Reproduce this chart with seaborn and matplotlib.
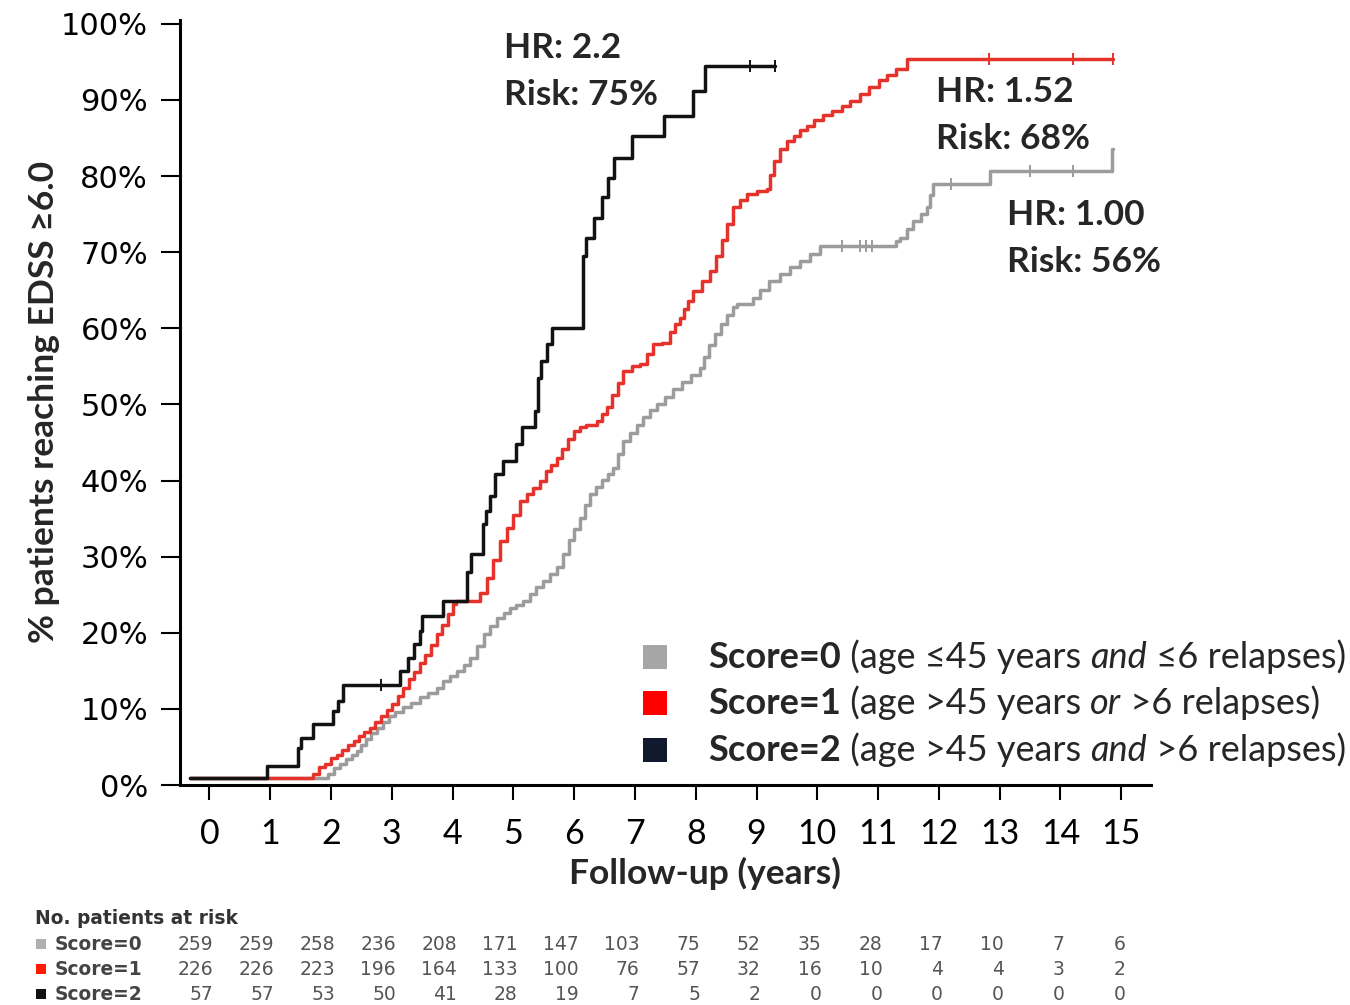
import matplotlib
matplotlib.use("Agg")
import matplotlib.pyplot as plt
import numpy as np
import pandas as pd
import seaborn as sns
from matplotlib.offsetbox import TextArea, HPacker, AnchoredOffsetbox
from matplotlib.patches import Rectangle
from matplotlib.transforms import blended_transform_factory

# ---------------- data ----------------
group_names = ["Score=0", "Score=1", "Score=2"]

# cumulative % reaching EDSS >= 6.0 (step points: year, percent)
score0_years = [-0.32, 1.95, 2.05, 2.15, 2.25, 2.35, 2.42, 2.50, 2.58, 2.66, 2.75, 2.85, 2.95,
                3.05, 3.19, 3.32, 3.46, 3.60, 3.74, 3.85, 3.96, 4.07, 4.18, 4.29, 4.40, 4.51,
                4.62, 4.73, 4.84, 4.95, 5.05, 5.16, 5.27, 5.38, 5.49, 5.60, 5.71, 5.82, 5.91,
                6.00, 6.10, 6.18, 6.26, 6.36, 6.45, 6.55, 6.64, 6.72, 6.81, 6.92, 7.03, 7.14,
                7.25, 7.36, 7.50, 7.63, 7.77, 7.92, 8.07, 8.13, 8.22, 8.32, 8.42, 8.52, 8.62,
                8.68, 8.95, 9.06, 9.20, 9.39, 9.55, 9.72, 9.88, 10.05, 11.30, 11.36, 11.47,
                11.58, 11.70, 11.80, 11.86, 11.91, 12.84, 14.85, 14.86]
score0_pct = [0.9, 1.4, 2.2, 2.8, 3.4, 4.0, 4.5, 5.3, 6.0, 6.8, 7.5, 8.3, 9.0,
              9.6, 10.2, 10.8, 11.5, 12.1, 12.8, 13.6, 14.3, 15.0, 15.8, 16.7, 18.2, 19.8,
              20.9, 21.9, 22.6, 23.2, 23.7, 24.2, 25.1, 26.0, 26.8, 27.7, 28.6, 30.4, 32.2,
              33.6, 35.1, 36.8, 38.2, 39.2, 40.1, 40.9, 41.7, 43.5, 45.2, 46.3, 47.3, 48.3,
              49.2, 50.0, 51.0, 52.0, 52.9, 53.8, 54.8, 56.2, 57.8, 59.3, 60.6, 61.8, 62.8,
              63.2, 64.0, 65.0, 66.2, 67.1, 68.0, 68.9, 69.7, 70.8, 71.5, 71.9, 73.0,
              74.1, 75.0, 75.9, 77.5, 78.9, 80.7, 83.5, 83.5]

score1_years = [-0.32, 1.71, 1.80, 1.90, 2.00, 2.09, 2.18, 2.28, 2.37, 2.46, 2.55, 2.64, 2.73,
                2.82, 2.92, 3.01, 3.10, 3.19, 3.28, 3.37, 3.46, 3.55, 3.64, 3.74, 3.83, 3.92,
                4.01, 4.05, 4.45, 4.56, 4.67, 4.78, 4.89, 5.00, 5.11, 5.22, 5.33, 5.44, 5.53,
                5.62, 5.71, 5.80, 5.90, 5.99, 6.10, 6.20, 6.37, 6.46, 6.54, 6.63, 6.72, 6.81,
                6.95, 7.08, 7.19, 7.30, 7.45, 7.58, 7.66, 7.74, 7.81, 7.88, 7.96, 8.10, 8.24,
                8.34, 8.43, 8.52, 8.62, 8.72, 8.84, 9.00, 9.17, 9.22, 9.28, 9.39, 9.50, 9.61,
                9.72, 9.83, 9.95, 10.10, 10.25, 10.40, 10.54, 10.70, 10.85, 11.01, 11.15,
                11.30, 11.48, 14.86]
score1_pct = [0.9, 1.5, 2.3, 2.8, 3.5, 4.0, 4.6, 5.2, 5.8, 6.5, 7.0, 7.5, 8.3,
              9.0, 9.8, 10.6, 11.7, 12.8, 13.9, 14.9, 16.0, 17.1, 18.4, 19.8, 21.0, 22.4,
              23.8, 24.2, 25.2, 27.2, 29.5, 32.0, 33.8, 35.5, 37.3, 38.2, 39.0, 39.9, 41.2,
              42.1, 43.0, 44.2, 45.4, 46.5, 47.0, 47.3, 47.8, 48.7, 49.6, 51.2, 52.8, 54.4,
              55.0, 55.3, 56.6, 57.9, 58.1, 59.5, 60.5, 61.4, 62.5, 63.6, 64.9, 66.2, 67.5,
              69.5, 71.6, 73.7, 75.9, 76.8, 77.6, 78.0, 78.3, 80.2, 82.0, 83.5, 84.6, 85.3,
              86.0, 86.6, 87.3, 88.0, 88.6, 89.2, 89.8, 90.8, 91.7, 92.6, 93.3,
              94.0, 95.4, 95.4]

score2_years = [-0.32, 0.94, 1.46, 1.51, 1.71, 2.04, 2.12, 2.20, 3.13, 3.27, 3.37, 3.46, 3.50,
                3.85, 4.23, 4.30, 4.50, 4.55, 4.62, 4.70, 4.83, 5.05, 5.14, 5.36, 5.41, 5.45,
                5.55, 5.63, 6.15, 6.20, 6.32, 6.45, 6.56, 6.65, 6.95, 7.47, 7.96, 8.15, 9.30]
score2_pct = [0.9, 2.5, 4.9, 6.2, 8.0, 9.7, 11.0, 13.2, 15.0, 16.7, 18.5, 20.2, 22.2,
              24.2, 28.0, 30.3, 34.3, 36.0, 38.0, 40.8, 42.6, 44.8, 47.0, 49.1, 53.5, 55.7,
              57.9, 60.1, 69.5, 71.9, 74.5, 77.2, 79.8, 82.4, 85.3, 87.9, 91.2, 94.5, 94.5]

# censored observations (year, percent)
censor0_years = [10.40, 10.70, 10.80, 10.90, 12.20, 13.50, 14.20]
censor0_pct = [70.8, 70.8, 70.8, 70.8, 78.9, 80.7, 80.7]
censor1_years = [12.83, 14.20, 14.86]
censor1_pct = [95.4, 95.4, 95.4]
censor2_years = [2.83, 8.90, 9.30]
censor2_pct = [13.2, 94.5, 94.5]

hr_labels = ["HR: 1.00", "HR: 1.52", "HR: 2.2"]
risk_labels = ["Risk: 56%", "Risk: 68%", "Risk: 75%"]

legend_desc = [
    [(" (age ≤45 years ", "normal"), ("and", "italic"), (" ≤6 relapses)", "normal")],
    [(" (age >45 years ", "normal"), ("or", "italic"), (" >6 relapses)", "normal")],
    [(" (age >45 years ", "normal"), ("and", "italic"), (" >6 relapses)", "normal")],
]

risk_years = list(range(16))
at_risk_score0 = [259, 259, 258, 236, 208, 171, 147, 103, 75, 52, 35, 28, 17, 10, 7, 6]
at_risk_score1 = [226, 226, 223, 196, 164, 133, 100, 76, 57, 32, 16, 10, 4, 4, 3, 2]
at_risk_score2 = [57, 57, 53, 50, 41, 28, 19, 7, 5, 2, 0, 0, 0, 0, 0, 0]

x_ticks = list(range(16))
y_ticks = list(range(0, 101, 10))

# ---------------- styling ----------------
line_colors = {"Score=0": "#9c9c9c", "Score=1": "#e5332b", "Score=2": "#121212"}
legend_colors = {"Score=0": "#a6a6a6", "Score=1": "#ff0000", "Score=2": "#111a2c"}
table_colors = {"Score=0": "#b0b0b0", "Score=1": "#ff1a00", "Score=2": "#111111"}
SANS = ["Lato", "DejaVu Sans"]

sns.set_style("ticks")
plt.rcParams["font.family"] = SANS

W, H = 1350, 1005
fig = plt.figure(figsize=(W / 100, H / 100), dpi=100)
fig.patch.set_facecolor("white")


def fx(px):
    return px / W


def fy(py):
    return 1 - py / H


ax = fig.add_axes([fx(180), fy(785), fx(1151) - fx(180), fy(20) - fy(785)])

curves = pd.concat([
    pd.DataFrame({"year": score0_years, "pct": score0_pct, "group": "Score=0"}),
    pd.DataFrame({"year": score1_years, "pct": score1_pct, "group": "Score=1"}),
    pd.DataFrame({"year": score2_years, "pct": score2_pct, "group": "Score=2"}),
], ignore_index=True)

sns.lineplot(data=curves, x="year", y="pct", hue="group", hue_order=group_names,
             palette=line_colors, estimator=None, drawstyle="steps-post",
             linewidth=2.5, legend=False, ax=ax)

for cx, cy, g in [(censor0_years, censor0_pct, "Score=0"),
                  (censor1_years, censor1_pct, "Score=1"),
                  (censor2_years, censor2_pct, "Score=2")]:
    ax.plot(cx, cy, ls="none", marker="|", markersize=9, markeredgewidth=1.4,
            color=line_colors[g])

ax.set_xlim(-0.485, 15.49)
ax.set_ylim(0, 100.5)
ax.set_xticks(x_ticks)
ax.set_xticklabels([str(v) for v in x_ticks], fontsize=24.5, family=SANS)
ax.set_yticks(y_ticks)
ax.set_yticklabels([f"{v}%" for v in y_ticks], fontsize=22, family="DejaVu Sans")
ax.tick_params(axis="y", direction="out", length=14, width=1.5, pad=9, colors="black")
ax.tick_params(axis="x", direction="out", length=11, width=1.5, pad=13, colors="black")
for side in ("top", "right"):
    ax.spines[side].set_visible(False)
for side in ("left", "bottom"):
    ax.spines[side].set_linewidth(2.2)
    ax.spines[side].set_color("black")

ax.set_xlabel("Follow-up (years)", fontsize=25.5, fontweight="bold", family=SANS)
ax.xaxis.set_label_coords((705 - 180) / (1151 - 180), -(873 - 785) / 765, transform=ax.transAxes)
ax.xaxis.label.set_va("center")
ax.set_ylabel("% patients reaching EDSS ≥6.0", fontsize=25.5, fontweight="bold", family=SANS)
ax.yaxis.set_label_coords(-(180 - 44) / (1151 - 180), (785 - 402) / 765, transform=ax.transAxes)
ax.yaxis.label.set_va("center")

# hazard ratio / risk annotations
annot_pos = [(1007, 215, 262), (936, 92, 139), (504, 48, 95)]
for (px, py1, py2), hr, rk in zip(annot_pos, hr_labels, risk_labels):
    fig.text(fx(px), fy(py1), hr, fontsize=25.5, fontweight="bold", va="center", ha="left", family=SANS)
    fig.text(fx(px), fy(py2), rk, fontsize=25.5, fontweight="bold", va="center", ha="left", family=SANS)

# legend: coloured squares with mixed-style text
legend_rows_y = [657, 703, 750]
for g, desc, py in zip(group_names, legend_desc, legend_rows_y):
    fig.patches.append(Rectangle((fx(643), fy(py + 12)), fx(24), 24 / H,
                                 transform=fig.transFigure, facecolor=legend_colors[g],
                                 edgecolor="none"))
    parts = [TextArea(g, textprops=dict(fontsize=26, fontweight="bold", family=SANS))]
    for txt, style in desc:
        parts.append(TextArea(txt, textprops=dict(fontsize=26, fontstyle=style, family=SANS)))
    row = HPacker(children=parts, align="baseline", pad=0, sep=0)
    box = AnchoredOffsetbox(loc="center left", child=row, pad=0, borderpad=0, frameon=False,
                            bbox_to_anchor=(fx(708), fy(py)), bbox_transform=fig.transFigure)
    fig.add_artist(box)

# number at risk table
fig.text(fx(35), fy(918), "No. patients at risk", fontsize=13.4, fontweight="bold",
         color="#333333", va="center", ha="left", family="DejaVu Sans")
trans = blended_transform_factory(ax.transData, fig.transFigure)
table_rows_y = [944, 969, 994]
for g, counts, py in zip(group_names, [at_risk_score0, at_risk_score1, at_risk_score2], table_rows_y):
    fig.patches.append(Rectangle((fx(36), fy(py + 5)), fx(10), 10 / H, transform=fig.transFigure,
                                 facecolor=table_colors[g], edgecolor="none"))
    fig.text(fx(55), fy(py), g, fontsize=13.4, fontweight="bold", color="#444444",
             va="center", ha="left", family="DejaVu Sans")
    for yr, n in zip(risk_years, counts):
        ax.text(yr + 0.07, fy(py), str(n), transform=trans, fontsize=13.5, color="#555555",
                va="center", ha="right", family="DejaVu Sans", clip_on=False)

fig.savefig("out.png", dpi=100, facecolor="white")
